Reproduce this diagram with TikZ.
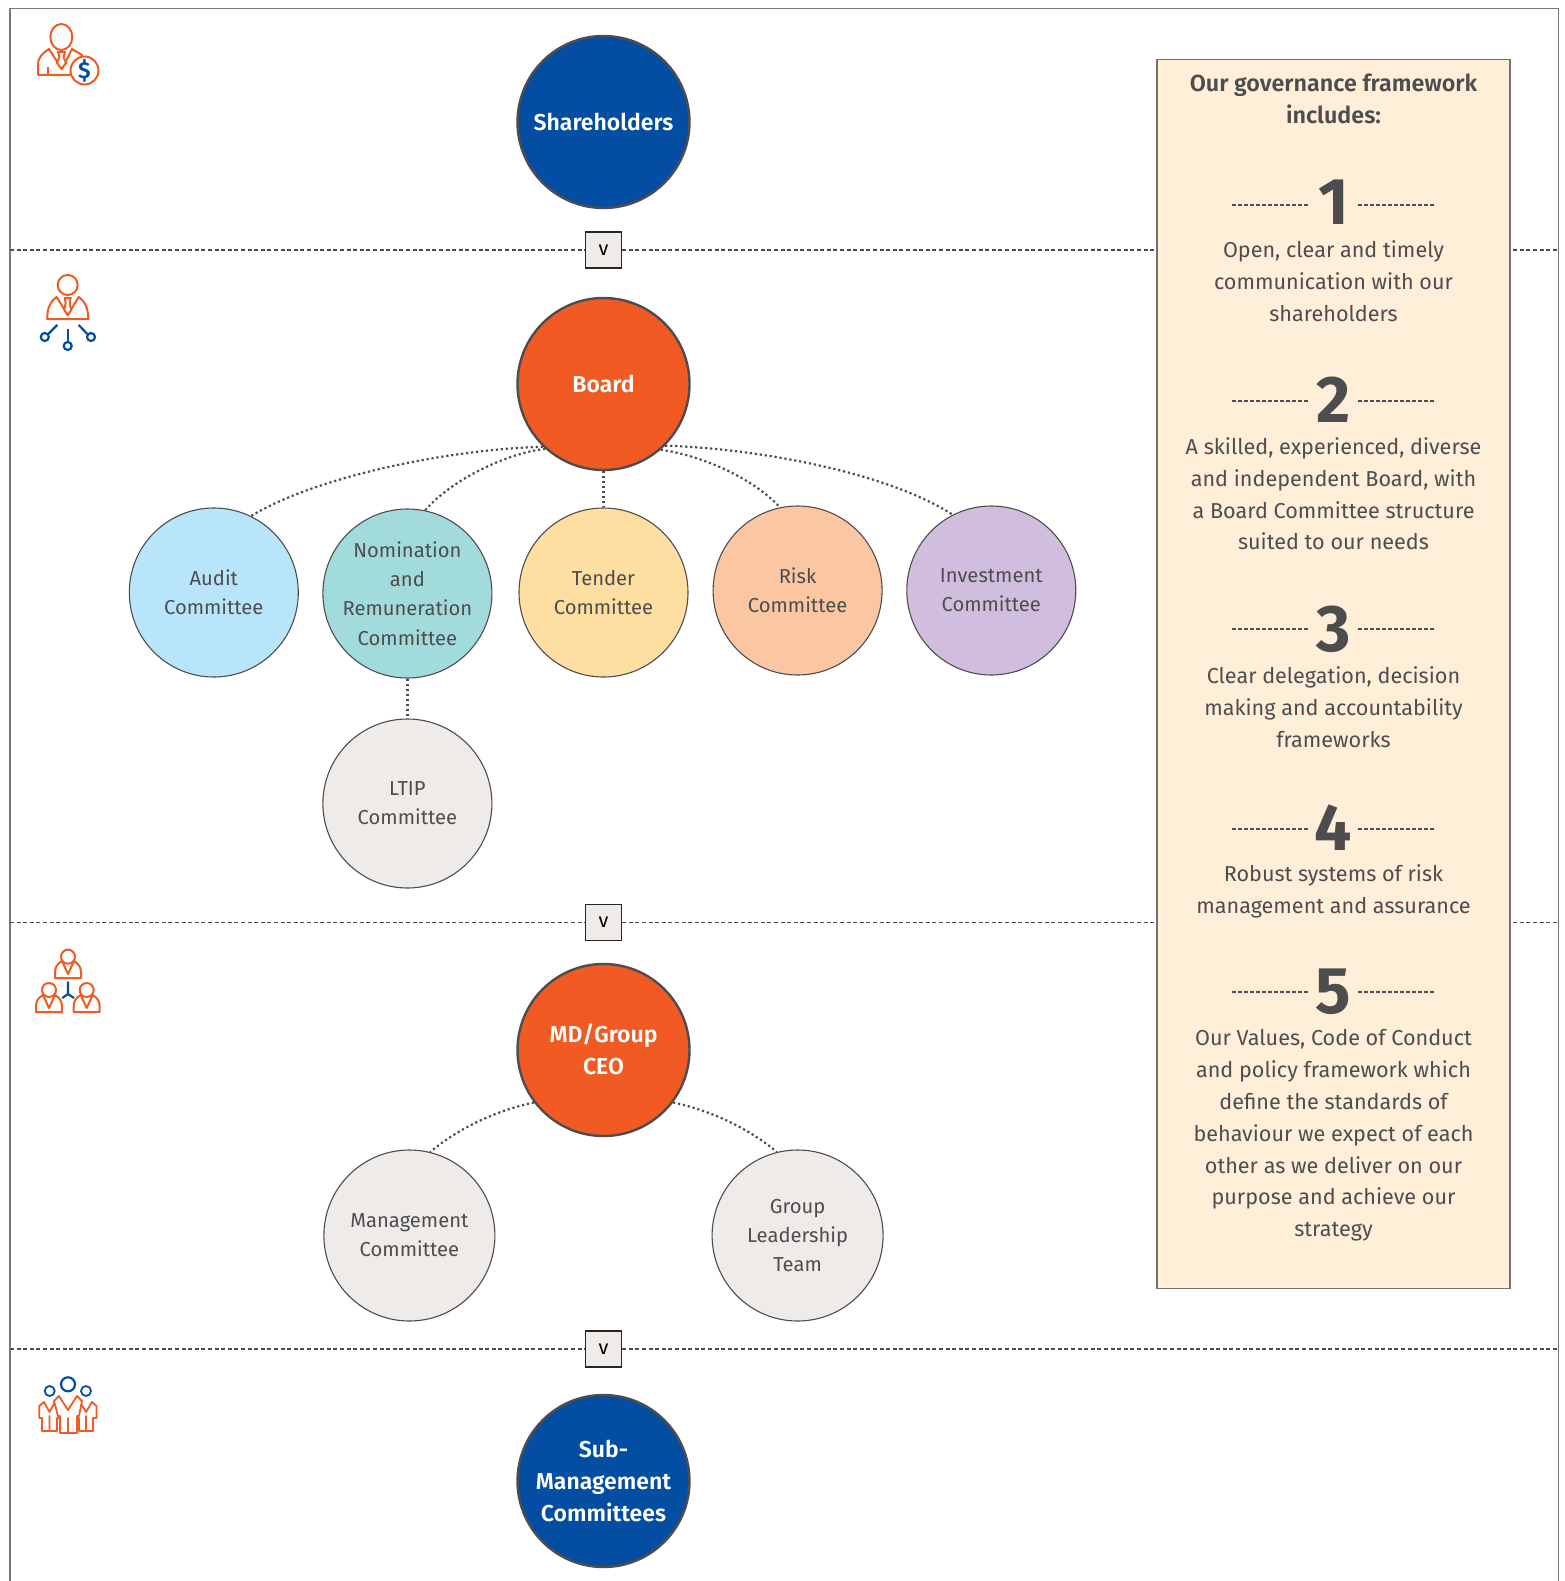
\documentclass[tikz,border=0pt]{standalone}
\usepackage{fontspec}
\setmainfont{Fira Sans}[BoldFont=Fira Sans SemiBold]
\newfontfamily\digfont{Fira Sans Bold}
\usetikzlibrary{calc}
\definecolor{ink}{HTML}{4D4D4F}
\definecolor{orng}{HTML}{F15A22}
\definecolor{blu}{HTML}{034EA2}
\definecolor{cLblue}{HTML}{B9E5FB}
\definecolor{cTeal}{HTML}{A2DBDB}
\definecolor{cYel}{HTML}{FFDEA1}
\definecolor{cPeach}{HTML}{FBC7A3}
\definecolor{cPur}{HTML}{D1BEDE}
\definecolor{cGrey}{HTML}{EFEBE8}
\definecolor{cCream}{HTML}{FFEFD8}
\definecolor{frameC}{HTML}{777777}
\tikzset{
  bigc/.style={circle,draw=ink,line width=2.4pt,minimum size=172pt,inner sep=0pt,align=center,text=white,font=\fontsize{23}{32}\selectfont\bfseries},
  smallc/.style={circle,draw=ink,line width=1.1pt,minimum size=169pt,inner sep=0pt,align=center,text=ink,font=\fontsize{20.2}{29.2}\selectfont},
  vbox/.style={rectangle,draw=black!85,fill=cGrey,line width=1.3pt,minimum size=36pt,inner sep=0pt,font=\fontsize{20}{20}\selectfont},
  sect/.style={draw=ink,line width=1.1pt,dash pattern=on 4pt off 2.6pt},
  dots/.style={draw=ink,line width=2.2pt,dash pattern=on 2.2pt off 2.8pt},
  paneltxt/.style={align=center,text=ink,inner sep=0pt,font=\fontsize{21.6}{31.8}\selectfont},
  digit/.style={text=ink,inner sep=0pt,font=\fontsize{66}{66}\selectfont\digfont},
  rule/.style={draw=ink,line width=1.1pt,dash pattern=on 3.6pt off 2.4pt},
  ico/.style={draw=orng,line width=2pt,line join=round,fill=white},
  icob/.style={draw=blu,line width=2.2pt,fill=none},
}
\newcommand{\minibody}[1]{% #1 half width; origin at bottom centre
  \draw[ico] (-#1,0) -- (-#1,-5) .. controls (-#1,-11) and (-#1+2,-14) .. (-6,-17) -- (0,-4) -- (6,-17) .. controls (#1-2,-14) and (#1,-11) .. (#1,-5) -- (#1,0) -- cycle;
}
\begin{document}
\begin{tikzpicture}[x=1pt,y=-1pt]
\useasboundingbox (0,0) rectangle (1564,1581);
\fill[white] (0,0) rectangle (1564,1581);
% frame
\draw[frameC,line width=1.5pt] (10,1581) -- (10,8.5) -- (1558.5,8.5) -- (1558.5,1581);
% anchors for section lines
\coordinate (L1) at (10,250); \coordinate (R1) at (1558,250);
\coordinate (L2) at (10,922.5); \coordinate (R2) at (1558,922.5);
\coordinate (L3) at (10,1349); \coordinate (R3) at (1558,1349);
% arrows boxes
\node[vbox] (v1) at (603.5,250) {v};
\node[vbox] (v2) at (603.5,922.5) {v};
\node[vbox] (v3) at (603.5,1349) {v};
\draw[sect] (L1) -- (v1); \draw[sect] (v1) -- (R1);
\draw[sect] (L2) -- (v2); \draw[sect] (v2) -- (R2);
\draw[sect] (L3) -- (v3); \draw[sect] (v3) -- (R3);
% big circles
\node[bigc,fill=blu] (share) at (603.5,122) {Shareholders};
\node[bigc,fill=orng] (board) at (603.5,384) {Board};
\node[bigc,fill=orng] (ceo) at (603.5,1050) {\raisebox{1pt}{MD/Group}\\\raisebox{1pt}{CEO}};
\node[bigc,fill=blu] (sub) at (603.5,1481) {Sub-\\Management\\Committees};
% committees
\node[smallc,fill=cLblue] (audit) at (213.8,592.5) {Audit\\Committee};
\node[smallc,fill=cTeal] (nom) at (407.4,593.5) {Nomination\\and\\Remuneration\\Committee};
\node[smallc,fill=cYel] (tender) at (603.5,592.5) {Tender\\Committee};
\node[smallc,fill=cPeach] (risk) at (797.6,590.5) {Risk\\Committee};
\node[smallc,fill=cPur] (invest) at (991.3,590.5) {Investment\\Committee};
\node[smallc,fill=cGrey] (ltip) at (407.4,803.5) {LTIP\\Committee};
\node[smallc,fill=cGrey,minimum size=171pt] (mgmt) at (409.4,1235.5) {Management\\Committee};
\node[smallc,fill=cGrey,minimum size=171pt] (group) at (797.6,1235.5) {Group\\Leadership\\Team};
% dotted connectors
\draw[dots] (board.226) .. controls ($(board.226)+(-100,3)$) and ($(audit.64)+(62,-38)$) .. (audit.64);
\draw[dots] (board.228) .. controls ($(board.228)+(-37,4.3)$) and ($(nom.78)+(28,-32)$) .. (nom.78);
\draw[dots] (board.south) -- (tender.north);
\draw[dots] (board.311) .. controls ($(board.311)+(37,5)$) and ($(risk.102)+(-30,-32)$) .. (risk.102);
\draw[dots] (board.315) .. controls ($(board.315)+(94,3)$) and ($(invest.117)+(-65,-42)$) .. (invest.117);
\draw[dots] (nom.south) -- (ltip.north);
\draw[dots] (ceo.217) .. controls ($(ceo.217)+(-38,8)$) and ($(mgmt.76)+(27,-23)$) .. (mgmt.76);
\draw[dots] (ceo.323) .. controls ($(ceo.323)+(38,8)$) and ($(group.104)+(-27,-23)$) .. (group.104);
% panel
\node[rectangle,draw=ink!80,fill=cCream,line width=1.2pt,minimum width=353pt,minimum height=1229.5pt,inner sep=0pt] (panel) at (1333.5,674) {};
\node[paneltxt,font=\fontsize{23.3}{32}\selectfont\bfseries] (ttl) at (1333.5,99) {Our governance framework\\includes:};
\node[digit] (d1) at (1333.5,202) {1};
\node[digit] (d2) at (1333.5,400) {2};
\node[digit] (d3) at (1333.5,629) {3};
\node[digit] (d4) at (1333.5,828) {4};
\node[digit] (d5) at (1333.5,992) {5};
\foreach \n/\y in {1/205,2/401,3/629,4/829,5/992}{
  \coordinate (ra\n) at (1232,\y); \coordinate (rb\n) at (1308,\y);
  \coordinate (rc\n) at (1358,\y); \coordinate (rd\n) at (1435,\y);
  \draw[rule] (ra\n) -- (rb\n);
  \draw[rule] (rc\n) -- (rd\n);
}
\node[paneltxt] (p1) at (1333.5,281) {Open, clear and timely\\communication with our\\shareholders};
\node[paneltxt] (p2) at (1333.5,494) {A skilled, experienced, diverse\\and independent Board, with\\a Board Committee structure\\suited to our needs};
\node[paneltxt] (p3) at (1333.5,707) {Clear delegation, decision\\making and accountability\\frameworks};
\node[paneltxt] (p4) at (1333.5,891.5) {Robust systems of risk\\management and assurance};
\node[paneltxt] (p5) at (1333.5,1135.5) {Our Values, Code of Conduct\\and policy framework which\\define the standards of\\behaviour we expect of each\\other as we deliver on our\\purpose and achieve our\\strategy};
% icon 1: person with dollar
\draw[ico] (38,75) -- (38,65) .. controls (38,57) and (43,53) .. (49,49) -- (62,69) -- (72,49) -- (82,55) -- (80,75) -- cycle;
\draw[ico] (48,67) -- (48,75);
\draw[ico] (58,52) -- (65,52) -- (63.5,57) -- (66,63) -- (61.5,69) -- (57,63) -- (59.5,57) -- cycle;
\draw[ico] (61.3,37) ellipse [x radius=11,y radius=13];
\draw[ico] (84.5,70.5) circle [radius=14];
\node[text=blu,inner sep=0pt,font=\fontsize{23}{23}\selectfont\bfseries] (dollar) at (84.5,70.5) {\$};
% icon 2: person with nodes
\begin{scope}[shift={(67.7,319)}]
  \draw[ico] (-20.5,0) .. controls (-20.5,-10) and (-18,-17) .. (-11,-22) -- (0,-4) -- (11,-22) .. controls (18,-17) and (20.5,-10) .. (20.5,0) -- cycle;
  \draw[ico] (-3,-21) -- (3,-21) -- (2,-16) -- (3.5,-9) -- (0,-4) -- (-3.5,-9) -- (-2,-16) -- cycle;
\end{scope}
\draw[ico] (67.7,285) circle [radius=10];
\draw[icob] (57.3,325) -- (48.3,334); \draw[icob] (44.8,337) circle [radius=4];
\draw[icob] (67.7,329) -- (67.7,341); \draw[icob] (67.7,346) circle [radius=4];
\draw[icob] (78.7,325) -- (87.3,334); \draw[icob] (91,337) circle [radius=4];
% icon 3: three people
\begin{scope}[shift={(68,978)}]\minibody{13}\end{scope}
\begin{scope}[shift={(49,1012)}]\minibody{13}\end{scope}
\begin{scope}[shift={(86.7,1012)}]\minibody{13}\end{scope}
\draw[ico] (68,956.7) circle [radius=7];
\draw[ico] (49,990) circle [radius=7];
\draw[ico] (86.7,990) circle [radius=7];
\draw[icob] (68,981.7) -- (68,994) -- (62.3,998);
\draw[icob] (68,994) -- (74,998);
% icon 4: group
\draw[ico,line width=1.8pt] (44,1402) -- (39.3,1406) -- (39.3,1418) -- (42,1418) -- (42,1431) -- (49.5,1431) -- (49.5,1416) -- (49.5,1431) -- (57,1431) -- (57,1418) -- (60,1418) -- (60,1406) -- (55,1402) -- (49.5,1412) -- cycle;
\draw[ico,line width=1.8pt] (80,1402) -- (76,1406) -- (76,1418) -- (79,1418) -- (79,1431) -- (86,1431) -- (86,1416) -- (86,1431) -- (93,1431) -- (93,1418) -- (96.5,1418) -- (96.5,1406) -- (92,1402) -- (86,1412) -- cycle;
\draw[ico,line width=1.8pt] (59,1396) -- (54,1401) -- (58,1416) -- (60,1416) -- (60,1433) -- (68,1433) -- (68,1418) -- (68,1433) -- (77,1433) -- (77,1416) -- (79,1416) -- (82,1401) -- (77,1396) -- (68,1410) -- cycle;
\draw[icob] (68,1384.3) circle [radius=7];
\draw[icob,line width=1.8pt] (49.7,1391) circle [radius=5];
\draw[icob,line width=1.8pt] (86,1391) circle [radius=5];
\end{tikzpicture}
\end{document}
